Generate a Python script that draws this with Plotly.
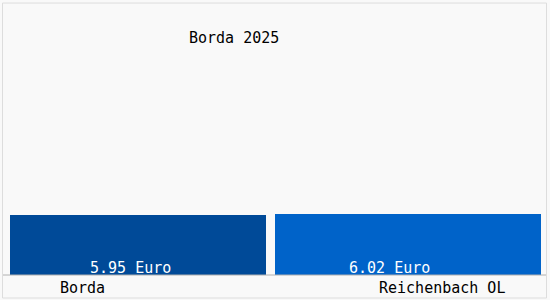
import plotly.graph_objects as go

categories = ["Borda", "Reichenbach OL"]
values = [5.95, 6.02]
value_labels = ["5.95 Euro", "6.02 Euro"]
title_text = "Borda 2025"
bar_colors = ["#004a98", "#0063c9"]

FONT = "DejaVu Sans Mono"
BG = "#f9f9f9"

fig = go.Figure()
fig.add_trace(go.Bar(
    x=categories,
    y=values,
    marker=dict(color=bar_colors, line=dict(width=0)),
    width=[0.9642, 1.0019],
    offset=[-0.5, -0.5019],
    hoverinfo="skip",
))

# value labels inside bars
label_x = [0.226, 0.7156]
for lx, txt in zip(label_x, value_labels):
    fig.add_annotation(x=lx, y=0.0326, xref="paper", yref="paper", text=txt,
                       showarrow=False, xanchor="center", yanchor="middle",
                       font=dict(family=FONT, size=15, color="white"))

# category labels below
cat_x = [0.1356, 0.8136]
for cx, txt in zip(cat_x, categories):
    fig.add_annotation(x=cx, y=-0.0605, xref="paper", yref="paper", text=txt,
                       showarrow=False, xanchor="center", yanchor="middle",
                       font=dict(family=FONT, size=15, color="black"))

# title
fig.add_annotation(x=0.4218, y=1.102, xref="paper", yref="paper", text=title_text,
                   showarrow=False, xanchor="center", yanchor="middle",
                   font=dict(family=FONT, size=15, color="black"))

# baseline
fig.add_shape(type="line", xref="paper", yref="paper", x0=-0.0132, x1=1.0104,
              y0=0, y1=0, line=dict(color="#b0b0b0", width=1))
# frame
fig.add_shape(type="rect", xref="paper", yref="paper", x0=-0.0141, x1=1.0104,
              y0=-0.107, y1=1.265, line=dict(color="#dddddd", width=1))

fig.update_layout(
    width=550, height=300,
    margin=dict(l=10, r=9, t=60, b=25),
    paper_bgcolor=BG, plot_bgcolor=BG,
    showlegend=False,
    xaxis=dict(visible=False, range=[-0.5, 1.5], fixedrange=True),
    yaxis=dict(visible=False, range=[1.75, 16.8], fixedrange=True),
)

fig.write_html("out.html", config={"displayModeBar": False})
